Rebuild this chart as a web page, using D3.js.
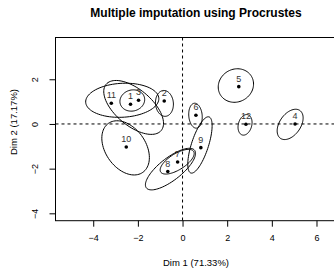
<!DOCTYPE html>
<html>
<head>
<meta charset="utf-8">
<script src="https://cdn.jsdelivr.net/npm/d3@7"></script>
<style>
  body { margin: 0; background: #fff; }
  text { font-family: "Liberation Sans", Arial, sans-serif; }
</style>
</head>
<body>
<svg width="334" height="270"></svg>
<script>
// individuals (Procrustes PCA coordinates)
const labels = ["1", "2", "3", "4", "5", "6", "7", "8", "9", "10", "11", "12"]
const dim1 = [-2.33, -0.82, -1.97, 5.04, 2.52, 0.60, -0.22, -0.66, 0.82, -2.52, -3.19, 2.84]
const dim2 = [0.88, 1.03, 1.06, 0.00, 1.67, 0.39, -1.70, -2.13, -1.06, -1.03, 0.93, -0.01]

// confidence ellipses: centre, semi axes, angle (deg)
const ellCx = [-2.25, -0.81, -2.19, 4.82, 2.39, 0.58, -0.24, -0.54, 0.78, -2.55, -2.70, 2.80]
const ellCy = [1.05, 0.92, 0.74, -0.02, 1.72, 0.37, -1.69, -2.02, -0.94, -1.07, 1.06, -0.04]
const ellA = [0.56, 0.58, 1.61, 0.76, 0.81, 0.56, 0.87, 1.37, 1.32, 1.34, 1.64, 0.47]
const ellB = [0.47, 0.40, 0.81, 0.47, 0.73, 0.30, 0.36, 0.50, 0.38, 0.90, 0.76, 0.30]
const ellAng = [15, 95, -40, 55, 30, 95, 32, 38, 72, -55, 3, 75]

const xTicks = [-4, -2, 0, 2, 4, 6]
const yTicks = [-4, -2, 0, 2]

window.addEventListener('load', () => {
    draw()
})

function draw() {
    const svg = d3.select("svg")
    const box = {left: 55.5, right: 337.7, top: 37.5, bottom: 220.7}

    const x = d3.scaleLinear().domain([-5.69, 6.95]).range([box.left, box.right])
    const y = d3.scaleLinear().domain([-4.33, 3.87]).range([box.bottom, box.top])

    svg.append("text")
        .attr("x", 196).attr("y", 17)
        .attr("text-anchor", "middle")
        .attr("font-size", 12).attr("font-weight", "bold")
        .text("Multiple imputation using Procrustes")

    // zero lines
    svg.append("line")
        .attr("x1", x(0)).attr("x2", x(0))
        .attr("y1", box.top).attr("y2", box.bottom)
        .attr("stroke", "#000").attr("stroke-dasharray", "3,3")
    svg.append("line")
        .attr("x1", box.left).attr("x2", box.right)
        .attr("y1", y(0)).attr("y2", y(0))
        .attr("stroke", "#000").attr("stroke-dasharray", "3,3")

    // ellipses
    const line = d3.line().x(d => x(d[0])).y(d => y(d[1]))
    const angles = d3.range(0, 361, 4).map(a => a * Math.PI / 180)
    labels.forEach((lab, i) => {
        const t = ellAng[i] * Math.PI / 180
        const pts = angles.map(a => {
            const u = ellA[i] * Math.cos(a), v = ellB[i] * Math.sin(a)
            return [ellCx[i] + u * Math.cos(t) - v * Math.sin(t),
                    ellCy[i] + u * Math.sin(t) + v * Math.cos(t)]
        })
        svg.append("path")
            .attr("d", line(pts))
            .attr("fill", "none")
            .attr("stroke", "#000")
            .attr("stroke-width", 1)
    })

    // points + labels
    const g = svg.append("g")
    g.selectAll("circle").data(labels).enter().append("circle")
        .attr("cx", (d, i) => x(dim1[i]))
        .attr("cy", (d, i) => y(dim2[i]))
        .attr("r", 1.8)
        .attr("fill", "#000")
    g.selectAll("text").data(labels).enter().append("text")
        .attr("x", (d, i) => x(dim1[i]))
        .attr("y", (d, i) => y(dim2[i]) - 5)
        .attr("text-anchor", "middle")
        .attr("font-size", 9)
        .attr("fill", "#333")
        .text(d => d)

    // box
    svg.append("rect")
        .attr("x", box.left).attr("y", box.top)
        .attr("width", box.right - box.left).attr("height", box.bottom - box.top)
        .attr("fill", "none").attr("stroke", "#000")

    // axes
    const ax = svg.append("g")
        .attr("transform", "translate(0," + box.bottom + ")")
        .call(d3.axisBottom(x).tickValues(xTicks).tickSize(6).tickPadding(8)
            .tickFormat(d => d < 0 ? "\u2212" + Math.abs(d) : d))
    ax.select(".domain").remove()
    ax.selectAll("text").attr("font-size", 9).attr("font-family", null)

    const ay = svg.append("g")
        .attr("transform", "translate(" + box.left + ",0)")
        .call(d3.axisLeft(y).tickValues(yTicks).tickSize(6)
            .tickFormat(d => d < 0 ? "\u2212" + Math.abs(d) : d))
    ay.select(".domain").remove()
    ay.selectAll(".tick text")
        .attr("font-size", 9).attr("font-family", null)
        .attr("text-anchor", "middle")
        .attr("dy", null)
        .attr("x", 0).attr("y", 0)
        .attr("transform", "translate(-18,0) rotate(-90)")

    svg.append("text")
        .attr("x", 196).attr("y", 266)
        .attr("text-anchor", "middle")
        .attr("font-size", 9.5)
        .text("Dim 1 (71.33%)")
    svg.append("text")
        .attr("transform", "translate(17,122) rotate(-90)")
        .attr("text-anchor", "middle")
        .attr("font-size", 9.5)
        .text("Dim 2 (17.17%)")
}
</script>
</body>
</html>
